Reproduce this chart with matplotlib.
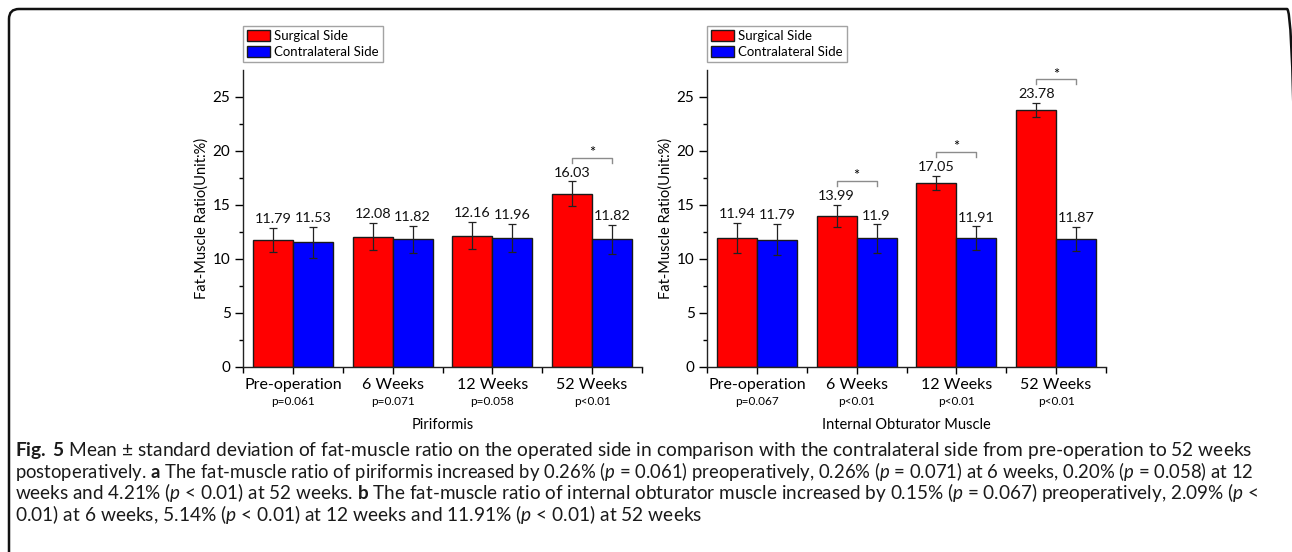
import matplotlib
matplotlib.use("Agg")
import matplotlib.pyplot as plt
import matplotlib.transforms as mtransforms
import numpy as np
from matplotlib.patches import FancyBboxPatch

# ---- data ----
groups = ["Pre-operation", "6 Weeks", "12 Weeks", "52 Weeks"]
series = ["Surgical Side", "Contralateral Side"]

piri_surg = [11.79, 12.08, 12.16, 16.03]
piri_surg_sd = [1.12, 1.25, 1.25, 1.15]
piri_contra = [11.53, 11.82, 11.96, 11.82]
piri_contra_sd = [1.42, 1.25, 1.3, 1.33]
piri_p = ["p=0.061", "p=0.071", "p=0.058", "p<0.01"]
piri_sig = [False, False, False, True]

obt_surg = [11.94, 13.99, 17.05, 23.78]
obt_surg_sd = [1.4, 1.03, 0.67, 0.66]
obt_contra = [11.79, 11.9, 11.91, 11.87]
obt_contra_sd = [1.45, 1.3, 1.1, 1.1]
obt_p = ["p=0.067", "p<0.01", "p<0.01", "p<0.01"]
obt_sig = [False, True, True, True]

caption_lines = [
    r"$\mathbf{Fig.\;5}$ Mean ± standard deviation of fat-muscle ratio on the operated side in comparison with the contralateral side from pre-operation to 52 weeks",
    r"postoperatively. $\mathbf{a}$ The fat-muscle ratio of piriformis increased by 0.26% ($\mathit{p}$ = 0.061) preoperatively, 0.26% ($\mathit{p}$ = 0.071) at 6 weeks, 0.20% ($\mathit{p}$ = 0.058) at 12",
    r"weeks and 4.21% ($\mathit{p}$ < 0.01) at 52 weeks. $\mathbf{b}$ The fat-muscle ratio of internal obturator muscle increased by 0.15% ($\mathit{p}$ = 0.067) preoperatively, 2.09% ($\mathit{p}$ <",
    r"0.01) at 6 weeks, 5.14% ($\mathit{p}$ < 0.01) at 12 weeks and 11.91% ($\mathit{p}$ < 0.01) at 52 weeks",
]

FONT = "Lato"
plt.rcParams["font.family"] = [FONT, "DejaVu Sans"]
plt.rcParams["mathtext.fontset"] = "custom"
plt.rcParams["mathtext.rm"] = FONT
plt.rcParams["mathtext.bf"] = FONT + ":bold"
plt.rcParams["mathtext.it"] = FONT + ":italic"

W, H = 1292, 552
fig = plt.figure(figsize=(W / 100, H / 100), dpi=100)


def px_axes(x0, y_top, x1, y_bot):
    return fig.add_axes([x0 / W, 1 - y_bot / H, (x1 - x0) / W, (y_bot - y_top) / H])


def draw_panel(ax, surg, surg_sd, contra, contra_sd, pvals, sig, xlabel):
    x = np.arange(1, len(groups) + 1)
    w = 0.4
    ax.bar(x - w / 2, surg, w, color="#ff0000", edgecolor="#1a1a1a", linewidth=1.0,
           label=series[0], zorder=2)
    ax.bar(x + w / 2, contra, w, color="#0000ff", edgecolor="#1a1a1a", linewidth=1.0,
           label=series[1], zorder=2)
    for xs, vals, sds in [(x - w / 2, surg, surg_sd), (x + w / 2, contra, contra_sd)]:
        ax.errorbar(xs, vals, yerr=sds, fmt="none", ecolor="#222222", elinewidth=0.9,
                    capsize=3, capthick=0.9, zorder=3)
        for xi, v, s in zip(xs, vals, sds):
            ax.annotate(f"{v:g}", (xi, v + s), xytext=(0, 2), textcoords="offset points",
                        ha="center", va="bottom", fontsize=10.4, color="#111111")
    for i, flag in enumerate(sig):
        if flag:
            y = surg[i] + surg_sd[i] + 2.2
            ax.plot([x[i] - w / 2, x[i] - w / 2, x[i] + w / 2, x[i] + w / 2],
                    [y - 0.45, y, y, y - 0.45], color="#8c8c8c", lw=1.0, zorder=3)
            ax.text(x[i], y + 0.05, "*", ha="center", va="baseline", fontsize=10.5)

    ax.set_xlim(0.5, len(groups) + 0.5)
    ax.set_ylim(0, 27.5)
    ax.set_xticks(x)
    ax.set_xticklabels(groups, fontsize=11.5)
    ax.set_xticks(np.arange(0.5, len(groups) + 1, 1.0), minor=True)
    ax.set_yticks(np.arange(0, 26, 5))
    ax.set_yticks(np.arange(2.5, 27.5, 5), minor=True)
    ax.tick_params(axis="y", which="major", length=6, width=1, labelsize=11, pad=3)
    ax.tick_params(axis="y", which="minor", length=3, width=1)
    ax.tick_params(axis="x", which="major", length=5, width=1, pad=3)
    ax.tick_params(axis="x", which="minor", length=4, width=1)
    for side in ["top", "right"]:
        ax.spines[side].set_visible(False)
    for side in ["left", "bottom"]:
        ax.spines[side].set_linewidth(1.0)
        ax.spines[side].set_color("#222222")
    ax.set_ylabel("Fat-Muscle Ratio(Unit:%)", fontsize=10.5, labelpad=3)
    trans = mtransforms.blended_transform_factory(ax.transData, ax.transAxes)
    for xi, p in zip(x, pvals):
        ax.text(xi, -0.1145, p, transform=trans, ha="center", va="center", fontsize=8.5)
    ax.text(0.5, -0.195, xlabel, transform=ax.transAxes, ha="center", va="center",
            fontsize=10.5)


ax1 = px_axes(243, 70, 642, 367)
ax2 = px_axes(707, 70, 1106, 367)
draw_panel(ax1, piri_surg, piri_surg_sd, piri_contra, piri_contra_sd, piri_p, piri_sig,
           "Piriformis")
draw_panel(ax2, obt_surg, obt_surg_sd, obt_contra, obt_contra_sd, obt_p, obt_sig,
           "Internal Obturator Muscle")

for ax, left in [(ax1, 243), (ax2, 707)]:
    h, l = ax.get_legend_handles_labels()
    leg = fig.legend(h, l, loc="upper left", bbox_to_anchor=(left / W, 1 - 26 / H),
                     fontsize=9.5, frameon=True, fancybox=False, edgecolor="#8c8c8c",
                     handlelength=1.75, handleheight=0.9, borderpad=0.3,
                     labelspacing=0.3, handletextpad=0.3, borderaxespad=0)
    leg.get_frame().set_linewidth(1.0)

# rounded outer frame (right edge falls just outside the picture)
frame = FancyBboxPatch((0.09, -0.6), 12.88, 6.03,
                       boxstyle="round,pad=0,rounding_size=0.1",
                       transform=fig.dpi_scale_trans, fill=False, lw=1.8,
                       ec="#111111", clip_on=False)
fig.add_artist(frame)

# ---- caption: lines 1-3 fill the text block, last line ragged ----
renderer = fig.canvas.get_renderer()
x_left, x_right = 15, 1257
baselines = [456, 478, 499.5, 521]
cap_texts = [fig.text(x_left / W, 1 - b / H, s, fontsize=11.5, ha="left",
                      va="baseline", color="#1a1a1a")
             for s, b in zip(caption_lines, baselines)]
sizes = []
for t in cap_texts[:-1]:
    natural = t.get_window_extent(renderer).width
    sizes.append(11.5 * (x_right - x_left) / natural)
for t, s in zip(cap_texts, sizes + [sizes[0]]):
    t.set_fontsize(s)

fig.savefig("out.png", dpi=100)
